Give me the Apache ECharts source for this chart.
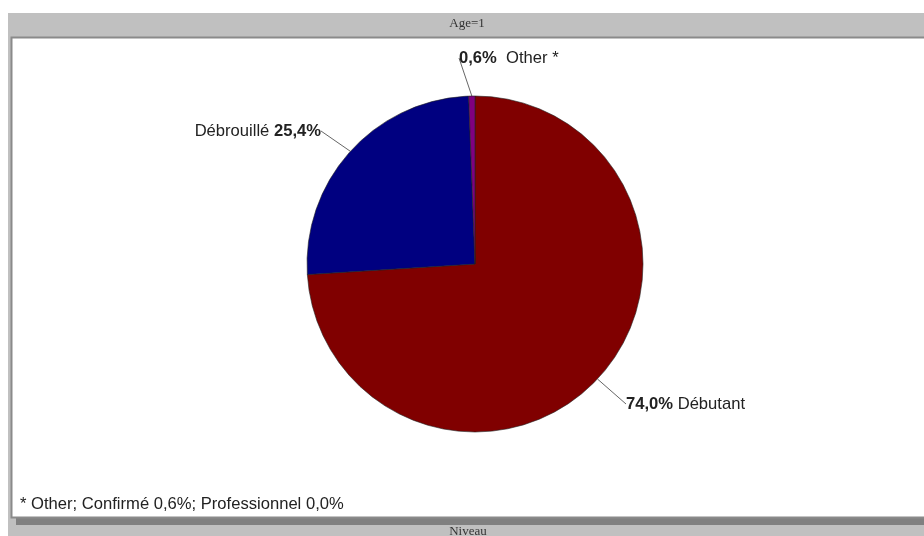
<!DOCTYPE html>
<html>
<head>
<meta charset="utf-8">
<script src="https://cdn.jsdelivr.net/npm/echarts@6/dist/echarts.min.js"></script>
<style>html,body{margin:0;padding:0;background:#fff}#c{width:924px;height:536px}</style>
</head>
<body>
<div id="c"></div>
<script>
const categories = ['Débutant', 'Débrouillé', 'Other'];
const values = [74.0, 25.4, 0.6];
const colors = ['#800000', '#000080', '#800080'];
const labelTexts = ['{b|74,0%} Débutant', 'Débrouillé {b|25,4%}', '{b|0,6%}  Other *'];
const titleText = 'Age=1';
const footerText = 'Niveau';
const noteText = '* Other; Confirmé 0,6%; Professionnel 0,0%';

const labelPos = [
  {x: 626, y: 404, align: 'left'},
  {x: 321, y: 131, align: 'right'},
  {x: 459, y: 58, align: 'left'}
];

const chart = echarts.init(document.getElementById('c'), null, {renderer: 'canvas'});
chart.setOption({
  animation: false,
  backgroundColor: '#ffffff',
  graphic: [
    {type: 'rect', shape: {x: 8, y: 13, width: 916, height: 523}, style: {fill: '#c0c0c0'}, z: -10},
    {type: 'rect', shape: {x: 16, y: 41, width: 920, height: 484}, style: {fill: '#808080'}, z: -9},
    {type: 'rect', shape: {x: 11.5, y: 37.5, width: 920, height: 480}, style: {fill: '#ffffff', stroke: '#8a8a8a', lineWidth: 2}, z: -8},
    {type: 'text', x: 467, y: 24, style: {text: titleText, font: '13px "Liberation Serif"', fill: '#333', align: 'center', verticalAlign: 'middle'}},
    {type: 'text', x: 468, y: 532, style: {text: footerText, font: '13px "Liberation Serif"', fill: '#333', align: 'center', verticalAlign: 'middle'}},
    {type: 'text', x: 20, y: 504, style: {text: noteText, font: '16.6px "Liberation Sans"', fill: '#222', align: 'left', verticalAlign: 'middle'}}
  ],
  series: [{
    type: 'pie',
    center: [475, 264],
    radius: 168,
    startAngle: 90,
    clockwise: true,
    avoidLabelOverlap: false,
    silent: true,
    itemStyle: {borderColor: '#222', borderWidth: 0.6},
    emphasis: {disabled: true},
    label: {
      show: true,
      position: 'outside',
      fontFamily: 'Liberation Sans',
      fontSize: 16.6,
      color: '#222',
      rich: {b: {fontFamily: 'Liberation Sans', fontSize: 16.6, fontWeight: 'bold', color: '#222'}}
    },
    labelLine: {show: true, length: 0, length2: 0, smooth: false, lineStyle: {color: '#666', width: 1}},
    labelLayout: function (p) {
      const lp = labelPos[p.dataIndex];
      return {x: lp.x, y: lp.y, align: lp.align, verticalAlign: 'middle'};
    },
    data: categories.map((c, i) => ({
      name: c,
      value: values[i],
      itemStyle: {color: colors[i]},
      label: {formatter: labelTexts[i]}
    }))
  }]
});
</script>
</body>
</html>
